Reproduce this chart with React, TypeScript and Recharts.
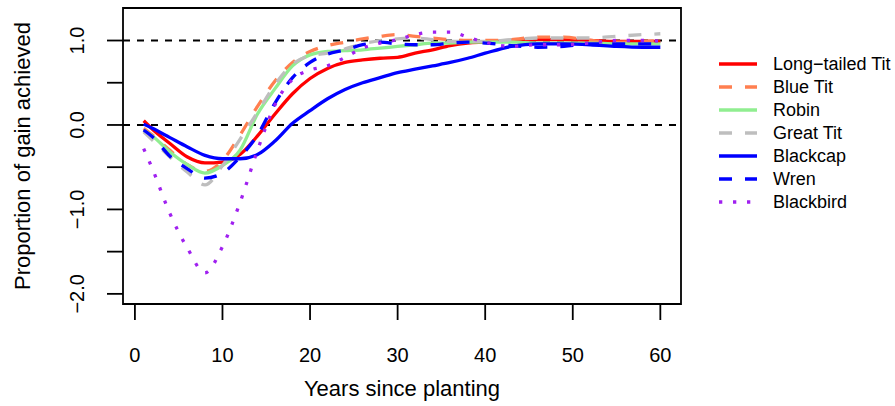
import React from 'react';
import {
  LineChart,
  Line,
  XAxis,
  YAxis,
  ReferenceLine,
  ReferenceArea,
  Legend
} from 'recharts';

// years since planting at which the smoothed curves are sampled
const years = [1, 2, 4, 6, 8, 10, 12, 14, 16, 18, 20, 22, 24, 26, 28, 30, 32, 34, 36, 38, 40, 43, 46, 49, 52, 55, 58, 60];

const longTailedTit = [0.05, -0.05, -0.22, -0.38, -0.45, -0.44, -0.35, -0.13, 0.13, 0.37, 0.55, 0.67, 0.74, 0.77, 0.79, 0.8, 0.85, 0.89, 0.94, 0.97, 0.98, 1.0, 1.01, 1.01, 1.0, 0.99, 0.99, 0.99];
const blueTit = [-0.04, -0.12, -0.3, -0.47, -0.55, -0.42, -0.12, 0.22, 0.52, 0.74, 0.87, 0.94, 0.98, 1.02, 1.05, 1.07, 1.05, 1.03, 1.01, 1.0, 1.0, 1.01, 1.04, 1.04, 1.0, 0.98, 0.99, 1.0];
const robin = [-0.06, -0.13, -0.32, -0.47, -0.57, -0.48, -0.3, 0.13, 0.43, 0.7, 0.83, 0.87, 0.88, 0.89, 0.91, 0.93, 0.95, 0.97, 0.97, 0.98, 0.98, 0.98, 0.97, 0.97, 0.97, 0.96, 0.96, 0.96];
const greatTit = [-0.08, -0.18, -0.38, -0.56, -0.71, -0.48, -0.17, 0.15, 0.48, 0.72, 0.82, 0.85, 0.9, 0.96, 1.0, 1.02, 1.03, 1.01, 0.99, 0.99, 0.99, 1.01, 1.03, 1.03, 1.03, 1.05, 1.07, 1.08];
const blackcap = [0.01, -0.04, -0.15, -0.26, -0.36, -0.4, -0.4, -0.35, -0.19, 0.02, 0.17, 0.31, 0.42, 0.5, 0.56, 0.62, 0.66, 0.7, 0.74, 0.79, 0.85, 0.93, 0.96, 0.96, 0.95, 0.93, 0.92, 0.92];
const wren = [-0.06, -0.14, -0.37, -0.52, -0.63, -0.57, -0.38, -0.12, 0.26, 0.56, 0.74, 0.84, 0.89, 0.95, 0.98, 0.96, 0.95, 0.95, 0.97, 0.98, 0.97, 0.94, 0.92, 0.93, 0.96, 0.96, 0.96, 0.96];
const blackbird = [-0.28, -0.52, -1.05, -1.46, -1.75, -1.44, -0.92, -0.3, 0.24, 0.54, 0.65, 0.7, 0.8, 0.91, 0.97, 1.01, 1.07, 1.1, 1.1, 1.04, 0.98, 0.93, 0.95, 0.95, 0.97, 1.0, 1.0, 0.99];

const xTicks = [0, 10, 20, 30, 40, 50, 60];
const yTicks = [-2, -1.5, -1, -0.5, 0, 0.5, 1];

const series = [
  { key: 'longTailedTit', name: 'Long\u2212tailed Tit', values: longTailedTit, color: '#FF0000', dash: undefined },
  { key: 'blueTit', name: 'Blue Tit', values: blueTit, color: '#FF7F50', dash: '13 13' },
  { key: 'robin', name: 'Robin', values: robin, color: '#90EE90', dash: undefined },
  { key: 'greatTit', name: 'Great Tit', values: greatTit, color: '#BEBEBE', dash: '13 13' },
  { key: 'blackcap', name: 'Blackcap', values: blackcap, color: '#0000FF', dash: undefined },
  { key: 'wren', name: 'Wren', values: wren, color: '#0000FF', dash: '13 13' },
  { key: 'blackbird', name: 'Blackbird', values: blackbird, color: '#A020F0', dash: '3.3 10.7' }
];

const data = years.map((year, i) => {
  const row: Record<string, number> = { year };
  series.forEach((s) => {
    row[s.key] = s.values[i];
  });
  return row;
});

const FONT = '"Liberation Sans", Arial, Helvetica, sans-serif';

const XTick = ({ x, y, payload }: any) => (
  <text x={x} y={y} dy={35} textAnchor="middle" dominantBaseline="central" fontSize={20} fontFamily={FONT} fill="#000">
    {payload.value}
  </text>
);

const YTick = ({ x, y, payload }: any) => {
  const v = payload.value;
  if (!Number.isInteger(v)) return <g />;
  const label = (v < 0 ? '\u2212' : '') + Math.abs(v).toFixed(1);
  const tx = x - 30;
  return (
    <text
      x={tx}
      y={y}
      transform={`rotate(-90, ${tx}, ${y})`}
      textAnchor="middle"
      dominantBaseline="central"
      fontSize={20}
      fontFamily={FONT}
      fill="#000"
    >
      {label}
    </text>
  );
};

const renderLegend = () => (
  <svg width={183} height={175}>
    {series.map((s, i) => {
      const cy = 14 + i * 23;
      return (
        <g key={s.key}>
          <line x1={7} x2={45} y1={cy} y2={cy} stroke={s.color} strokeWidth={3.3} strokeDasharray={s.dash} />
          <text x={61} y={cy} dominantBaseline="central" fontSize={18} fontFamily={FONT} fill="#000">
            {s.name}
          </text>
        </g>
      );
    })}
  </svg>
);

const App: React.FC = () => {
  return (
    <div style={{ position: 'absolute', left: 0, top: 0, background: '#fff' }}>
      <LineChart width={895} height={406} data={data} margin={{ top: 8, right: 214, left: 63, bottom: 12 }}>
        <XAxis
          dataKey="year"
          type="number"
          domain={[-1.36, 62.36]}
          ticks={xTicks}
          allowDataOverflow
          height={90}
          axisLine={false}
          tickLine={{ stroke: '#000', strokeWidth: 1.8 }}
          tickSize={16}
          tickMargin={0}
          tick={<XTick />}
          interval={0}
          label={({ viewBox }: any) => (
            <text
              x={viewBox.x + viewBox.width / 2}
              y={viewBox.y + 84}
              textAnchor="middle"
              dominantBaseline="central"
              fontSize={22}
              fontFamily={FONT}
              fill="#000"
            >
              Years since planting
            </text>
          )}
        />
        <YAxis
          type="number"
          domain={[-2.12, 1.385]}
          ticks={yTicks}
          allowDataOverflow
          width={60}
          axisLine={false}
          tickLine={{ stroke: '#000', strokeWidth: 1.8 }}
          tickSize={16}
          tickMargin={0}
          tick={<YTick />}
          interval={0}
          label={({ viewBox }: any) => {
            const lx = 22;
            const ly = viewBox.y + viewBox.height / 2;
            return (
              <text
                x={lx}
                y={ly}
                transform={`rotate(-90, ${lx}, ${ly})`}
                textAnchor="middle"
                dominantBaseline="central"
                fontSize={22}
                fontFamily={FONT}
                fill="#000"
              >
                Proportion of gain achieved
              </text>
            );
          }}
        />
        <ReferenceArea x1={-1.36} x2={62.36} y1={-2.12} y2={1.385} fill="none" stroke="#000" strokeWidth={1.8} ifOverflow="visible" />
        <ReferenceLine y={1} stroke="#000" strokeWidth={2} strokeDasharray="7 7" />
        <ReferenceLine y={0} stroke="#000" strokeWidth={2} strokeDasharray="7 7" />
        {series.map((s) => (
          <Line
            key={s.key}
            type="monotone"
            dataKey={s.key}
            name={s.name}
            stroke={s.color}
            strokeWidth={3.3}
            strokeDasharray={s.dash}
            dot={false}
            activeDot={false}
            isAnimationActive={false}
          />
        ))}
        <Legend
          layout="vertical"
          align="center"
          verticalAlign="middle"
          wrapperStyle={{ left: 712, top: 50, width: 183, height: 175 }}
          content={renderLegend}
        />
      </LineChart>
    </div>
  );
};

export default App;
